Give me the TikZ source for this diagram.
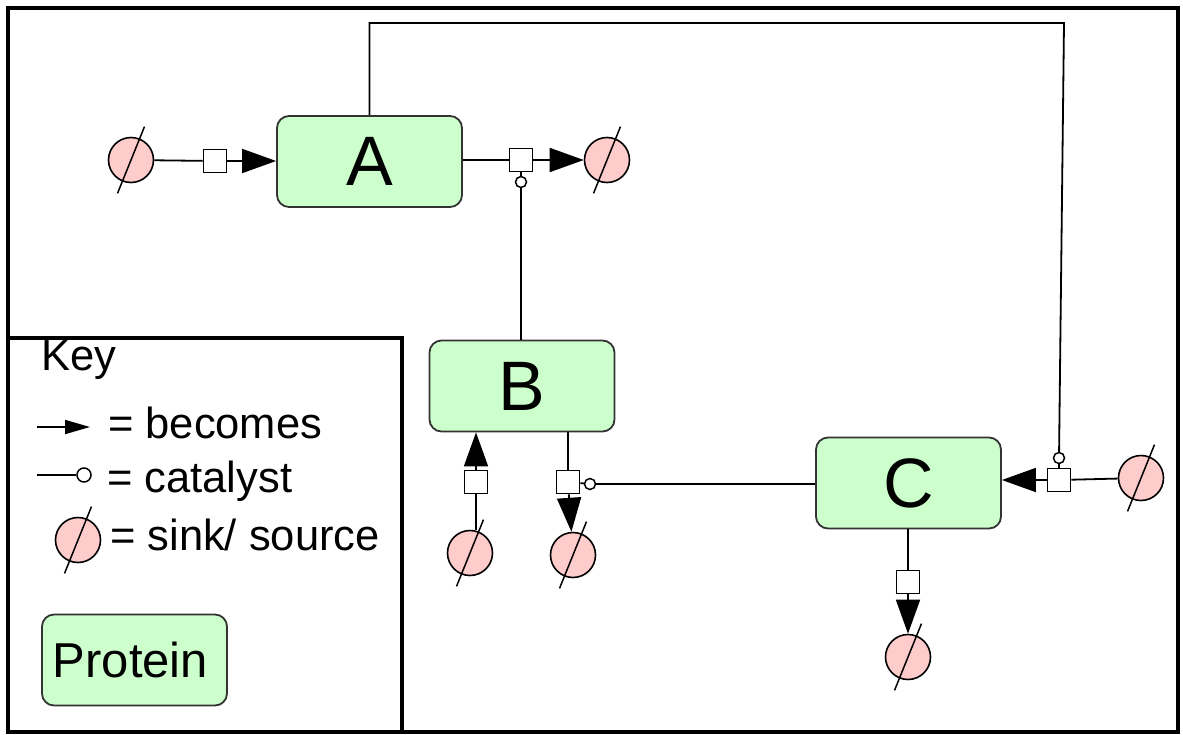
\documentclass[tikz,border=0pt]{standalone}
\usepackage{fontspec}
\setmainfont{Liberation Sans}
\usetikzlibrary{arrows.meta}
\definecolor{protgreen}{HTML}{CCFFCC}
\definecolor{sinkpink}{HTML}{FFCCCC}
\definecolor{edgegray}{HTML}{333333}
\tikzset{
  prot/.style={draw=edgegray, fill=protgreen, line width=1.8pt, rounded corners=12pt,
    minimum width=185pt, minimum height=91pt, inner sep=0pt,
    font=\fontsize{70}{72}\selectfont},
  proc/.style={draw=black, fill=white, line width=1.8pt, minimum size=23pt, inner sep=0pt},
  sink/.style={circle, draw=black, fill=sinkpink, line width=1.6pt, minimum size=45pt, inner sep=0pt},
  cat/.style={circle, draw=black, fill=white, line width=1.5pt, minimum size=11pt, inner sep=0pt},
  conn/.style={line width=1.8pt, draw=black},
  arr/.style={conn, -{Triangle[length=34pt,width=24pt]}},
  keytxt/.style={anchor=base west, inner sep=0pt, font=\fontsize{43.5}{45}\selectfont},
}
\begin{document}
\begin{tikzpicture}[x=1pt,y=-1pt]
\useasboundingbox (0,0) rectangle (1183,734);
% frames
\draw[line width=4pt] (8,8) rectangle (1178,732);
\draw[line width=4pt] (8,734) -- (8,338) -- (402,338) -- (402,734);
% proteins
\node[prot] (A) at (369.5,161.5) {A};
\node[prot] (B) at (522,386) {B};
\node[prot] (C) at (908.5,483) {C};
% process squares
\node[proc] (pA1) at (215,161) {};
\node[proc] (pA2) at (521,160) {};
\node[proc] (pB1) at (476,482) {};
\node[proc] (pB2) at (568,482) {};
\node[proc] (pC1) at (1059,480) {};
\node[proc] (pC2) at (908,582) {};
% sinks
\node[sink] (sA1) at (131,160) {};
\node[sink] (sA2) at (607,160) {};
\node[sink] (sB1) at (470,553) {};
\node[sink] (sB2) at (573,555) {};
\node[sink] (sC1) at (1141,478) {};
\node[sink] (sC2) at (908,657) {};
% catalyst circles
\node[cat] (cA) at (521,182) {};
\node[cat] (cB) at (590,484) {};
\node[cat] (cC) at (1059,458) {};
\coordinate (tr) at (1064,23);
% reactions
\draw[conn] (sA1) -- (pA1);
\draw[arr] (pA1) -- (A.west |- pA1);
\draw[conn] (A.east |- pA2) -- (pA2);
\draw[arr] (pA2) -- (sA2);
\draw[conn] (pA2) -- (cA);
\draw[conn] (cA) -- (cA |- B.north);
\draw[conn] (sB1.north -| pB1) -- (pB1);
\draw[arr] (pB1) -- (pB1 |- B.south);
\draw[conn] (B.south -| pB2) -- (pB2);
\draw[arr] (pB2) -- (sB2);
\draw[conn] (cB) -- (C.west |- cB);
\draw[conn] (pB2) -- (cB);
\draw[conn] (sC1) -- (pC1);
\draw[arr] (pC1) -- (C.east |- pC1);
\draw[conn] (pC1) -- (cC);
\draw[conn] (C.south -| pC2) -- (pC2);
\draw[arr] (pC2) -- (sC2);
\draw[conn] (A.north) |- (tr) -- (cC);
% key
\node[keytxt] (kkey) at (41,370) {Key};
\coordinate (ka1) at (37,427);
\coordinate (ka2) at (90,427);
\draw[conn, -{Triangle[length=25pt,width=14pt]}] (ka1) -- (ka2);
\node[keytxt] (kbec) at (108,438) {= becomes};
\coordinate (kc1) at (37,475);
\node[cat, minimum size=14pt] (kcat) at (84,475) {};
\draw[conn] (kc1) -- (kcat);
\node[keytxt] (kcatt) at (107,492) {= catalyst};
\node[sink] (ksink) at (78,540) {};
\node[keytxt] (ksnk) at (110,550) {= sink/ source};
\node[prot, font=\fontsize{49}{51}\selectfont] (kprot) at (134.5,660) {\hspace*{-8pt}Protein};
% slashes through sinks
\foreach \s in {sA1,sA2,sB1,sB2,sC1,sC2,ksink}
  \draw[line width=1.5pt] ([shift={(112:36)}]\s.center) -- ([shift={(-68:36)}]\s.center);
\end{tikzpicture}
\end{document}
